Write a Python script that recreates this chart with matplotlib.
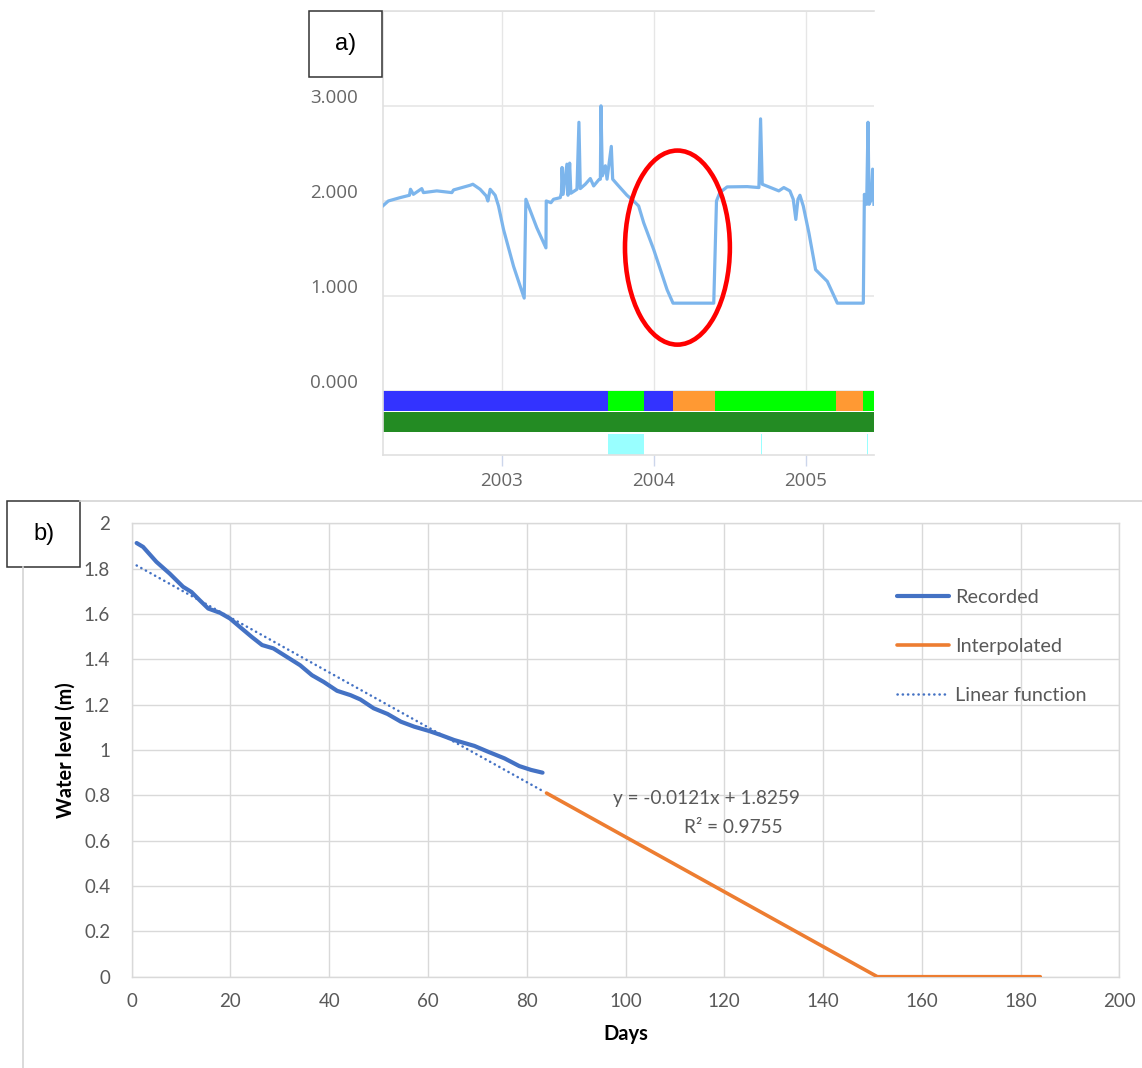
import matplotlib
matplotlib.use("Agg")
import matplotlib.pyplot as plt
from matplotlib.patches import Ellipse, Rectangle
from matplotlib.lines import Line2D
from matplotlib.transforms import ScaledTranslation

# ---------------- panel a: gauge record (screenshot) ----------------
a_years = [2002.217, 2002.254, 2002.331, 2002.393, 2002.400, 2002.419, 2002.474, 2002.485,
           2002.573, 2002.672, 2002.683, 2002.792, 2002.810, 2002.858, 2002.898, 2002.909,
           2002.924, 2002.957, 2002.979, 2003.012, 2003.078, 2003.122, 2003.148, 2003.159,
           2003.231, 2003.291, 2003.293, 2003.324, 2003.341, 2003.385, 2003.393, 2003.397,
           2003.404, 2003.429, 2003.436, 2003.447, 2003.455, 2003.495, 2003.508, 2003.517,
           2003.550, 2003.583, 2003.605, 2003.638, 2003.649, 2003.653, 2003.662, 2003.682,
           2003.693, 2003.721, 2003.730, 2003.759, 2003.824, 2003.868, 2003.901, 2003.934,
           2004.000, 2004.066, 2004.088, 2004.127, 2004.395, 2004.413, 2004.435, 2004.483,
           2004.615, 2004.692, 2004.703, 2004.714, 2004.769, 2004.823, 2004.856, 2004.896,
           2004.918, 2004.935, 2004.949, 2004.962, 2004.984, 2005.021, 2005.065, 2005.142,
           2005.208, 2005.379, 2005.386, 2005.401, 2005.410, 2005.417, 2005.432, 2005.440,
           2005.449]
a_level = [1.947, 2.000, 2.035, 2.060, 2.123, 2.070, 2.130, 2.088,
           2.106, 2.088, 2.116, 2.165, 2.176, 2.123, 2.053, 2.000,
           2.123, 2.060, 1.947, 1.700, 1.313, 1.102, 0.979, 2.018,
           1.718, 1.507, 2.000, 1.982, 2.018, 2.035, 2.088, 2.352,
           2.070, 2.387, 2.060, 2.398, 2.081, 2.123, 2.827, 2.130,
           2.176, 2.236, 2.158, 2.222, 2.229, 3.000, 2.264, 2.370,
           2.229, 2.574, 2.229, 2.176, 2.060, 2.000, 1.947, 1.771,
           1.489, 1.173, 1.067, 0.926, 0.926, 2.000, 2.088, 2.148,
           2.151, 2.141, 2.863, 2.176, 2.141, 2.106, 2.141, 2.106,
           2.018, 1.806, 2.018, 2.060, 1.947, 1.665, 1.278, 1.155,
           0.926, 0.926, 2.070, 1.965, 2.827, 1.965, 2.018, 2.335,
           1.965]

# status band 1 (segment start / end / colour)
band_start = [2002.219, 2003.697, 2003.934, 2004.125, 2004.400, 2004.703, 2005.202, 2005.377, 2005.401]
band_end = [2003.697, 2003.934, 2004.125, 2004.400, 2004.703, 2005.202, 2005.377, 2005.401, 2005.446]
band_colors = ['#3333ff', '#00ff00', '#3333ff', '#ff9933', '#00ff00', '#00ff00', '#ff9933', '#00ff00', '#00ff00']
# status band 3 (cyan marks)
cyan_start = [2003.697, 2004.703, 2005.403]
cyan_end = [2003.934, 2004.711, 2005.411]

a_xticks = [2003, 2004, 2005]
a_yticks = [0, 1, 2, 3, 4]
a_ylabels = ['0.000', '1.000', '2.000', '3.000', '']

# ---------------- panel b: recession ----------------
rec_days = [1, 2.3, 5, 7.7, 10.4, 12.1, 13.8, 15.5, 17.9, 19.9, 21.9, 24.3, 26.4, 28.7,
            31.4, 34.1, 36.5, 38.9, 41.6, 44.3, 46.3, 49, 51.8, 54.5, 57.2, 60.2, 62.6,
            65.3, 69.4, 72.1, 75.5, 78.5, 80.9, 83.2]
rec_level = [1.913, 1.896, 1.830, 1.778, 1.720, 1.697, 1.660, 1.624, 1.605, 1.580, 1.543,
             1.499, 1.463, 1.448, 1.411, 1.374, 1.330, 1.300, 1.261, 1.242, 1.223, 1.184,
             1.159, 1.125, 1.103, 1.084, 1.066, 1.044, 1.018, 0.993, 0.963, 0.929, 0.912, 0.900]
interp_days = [84, 151, 184]
interp_level = [0.81, 0.0, 0.0]
trend_days = [1, 83]
trend_level = [1.814, 0.822]
eq_text = "y = -0.0121x + 1.8259"
r2_text = "R² = 0.9755"

b_xticks = [0, 20, 40, 60, 80, 100, 120, 140, 160, 180, 200]
b_yticks = [0, 0.2, 0.4, 0.6, 0.8, 1.0, 1.2, 1.4, 1.6, 1.8, 2.0]
b_ylabels = ['0', '0.2', '0.4', '0.6', '0.8', '1', '1.2', '1.4', '1.6', '1.8', '2']

W, H = 1142, 1068
fig = plt.figure(figsize=(W / 100, H / 100), dpi=100)
fig.patch.set_facecolor('white')


def fx(px):
    return px / W


def fy(py):
    return 1 - py / H


# ---- panel a ----
ax_a = fig.add_axes([fx(383), fy(455), fx(873.5) - fx(383), fy(10.7) - fy(455)])
ax_a.set_xlim(2002.219, 2005.446)
ax_a.set_ylim(-0.67, 4.0)
ax_a.vlines(a_xticks, 0, 4, color='#e6e6e6', lw=1.0, zorder=0)
ax_a.hlines(a_yticks, 2002.219, 2005.446, color='#e6e6e6', lw=1.2, zorder=0)
ax_a.plot(a_years, a_level, color='#7cb5ec', lw=2.3, solid_joinstyle='round', zorder=3)

ax_a.broken_barh([(s, e - s) for s, e in zip(band_start, band_end)], (-0.21, 0.21),
                 facecolors=band_colors, edgecolor='none', zorder=2)
ax_a.broken_barh([(2002.219, 2005.446 - 2002.219)], (-0.43, 0.21), facecolors='#238b23',
                 edgecolor='none', zorder=2)
ax_a.broken_barh([(s, e - s) for s, e in zip(cyan_start, cyan_end)], (-0.67, 0.22),
                 facecolors='#99ffff', edgecolor='none', zorder=2)

ax_a.add_patch(Ellipse((2004.156, 1.51), 0.69, 2.04, fill=False, edgecolor='#ff0000', lw=3.3, zorder=4))

ax_a.spines['right'].set_visible(False)
for side in ['left', 'top', 'bottom']:
    ax_a.spines[side].set_color('#e0e0e0')
    ax_a.spines[side].set_linewidth(1.2)
ax_a.set_xticks(a_xticks)
ax_a.set_xticklabels([str(y) for y in a_xticks])
ax_a.set_yticks(a_yticks)
ax_a.set_yticklabels(a_ylabels)
ax_a.tick_params(axis='x', direction='out', length=8, width=1, color='#ccd6eb', pad=4,
                 labelsize=13.5, labelcolor='#666666')
ax_a.tick_params(axis='y', length=0, pad=18, labelsize=13.5, labelcolor='#666666')
for lbl in ax_a.get_xticklabels() + ax_a.get_yticklabels():
    lbl.set_fontfamily('Open Sans')
for tick in ax_a.yaxis.get_major_ticks():
    tick.label1.set_transform(tick.label1.get_transform() + ScaledTranslation(0, 0.10, fig.dpi_scale_trans))

# ---- panel b ----
ax_b = fig.add_axes([fx(131.7), fy(976.7), fx(1119.3) - fx(131.7), fy(523.3) - fy(976.7)])
ax_b.set_xlim(0, 200)
ax_b.set_ylim(0, 2)
ax_b.grid(True, color='#d9d9d9', lw=1.0, zorder=0)
ax_b.set_axisbelow(True)
ax_b.plot(rec_days, rec_level, color='#4472c4', lw=3.0, solid_capstyle='round',
          solid_joinstyle='round', label='Recorded', zorder=3)
ax_b.plot(interp_days, interp_level, color='#ed7d31', lw=2.6, solid_capstyle='round',
          label='Interpolated', zorder=3)
ax_b.plot(trend_days, trend_level, color='#4472c4', lw=1.8, linestyle=(0, (0.1, 2.0)),
          dash_capstyle='round', label='Linear function', zorder=3)

ax_b.text(97.5, 0.788, eq_text, ha='left', va='center', fontsize=13.7, color='#595959', family='Lato')
ax_b.text(111.9, 0.66, r2_text, ha='left', va='center', fontsize=13.7, color='#595959', family='Lato')

for side in ax_b.spines:
    ax_b.spines[side].set_color('#d9d9d9')
    ax_b.spines[side].set_linewidth(1.0)
ax_b.set_xticks(b_xticks)
ax_b.set_xticklabels([str(d) for d in b_xticks])
ax_b.set_yticks(b_yticks)
ax_b.set_yticklabels(b_ylabels)
ax_b.tick_params(axis='x', length=0, pad=12, labelsize=13.5, labelcolor='#595959')
ax_b.tick_params(axis='y', length=0, pad=15.5, labelsize=13.5, labelcolor='#595959')
for lbl in ax_b.get_xticklabels() + ax_b.get_yticklabels():
    lbl.set_fontfamily('Lato')
ax_b.set_xlabel('Days', fontsize=14.5, fontweight='bold', family='Lato', color='#000000')
ax_b.set_ylabel('Water level (m)', fontsize=14.3, fontweight='bold', family='Lato', color='#000000')
ax_b.xaxis.set_label_coords(0.5, -0.105)
ax_b.yaxis.set_label_coords(-0.057, 0.5)

ax_b.legend(loc='upper left', bbox_to_anchor=(0.775, 0.855), frameon=False, borderpad=0,
            borderaxespad=0, handlelength=2.6, handletextpad=0.3, labelspacing=1.6,
            prop={'family': 'Lato', 'size': 14.3}, labelcolor='#595959')

# ---- panel frames / letters ----
fig.add_artist(Line2D([fx(80), 1.0], [fy(500.7), fy(500.7)], color='#d4d4d4', lw=1.2))
fig.add_artist(Line2D([fx(23.3), fx(23.3)], [0, fy(566.7)], color='#d4d4d4', lw=1.2))
fig.add_artist(Rectangle((fx(309), fy(77)), fx(382) - fx(309), fy(11) - fy(77), fill=False,
                         edgecolor='#333333', lw=1.1, transform=fig.transFigure))
fig.add_artist(Rectangle((fx(7.3), fy(566.7)), fx(80) - fx(7.3), fy(500.7) - fy(566.7), fill=False,
                         edgecolor='#333333', lw=1.1, transform=fig.transFigure))
fig.text(fx(345.5), fy(44), 'a)', ha='center', va='center', fontsize=17, family='Liberation Sans')
fig.text(fx(43.7), fy(533.7), 'b)', ha='center', va='center', fontsize=17, family='Liberation Sans')

fig.savefig('out.png', dpi=100)
